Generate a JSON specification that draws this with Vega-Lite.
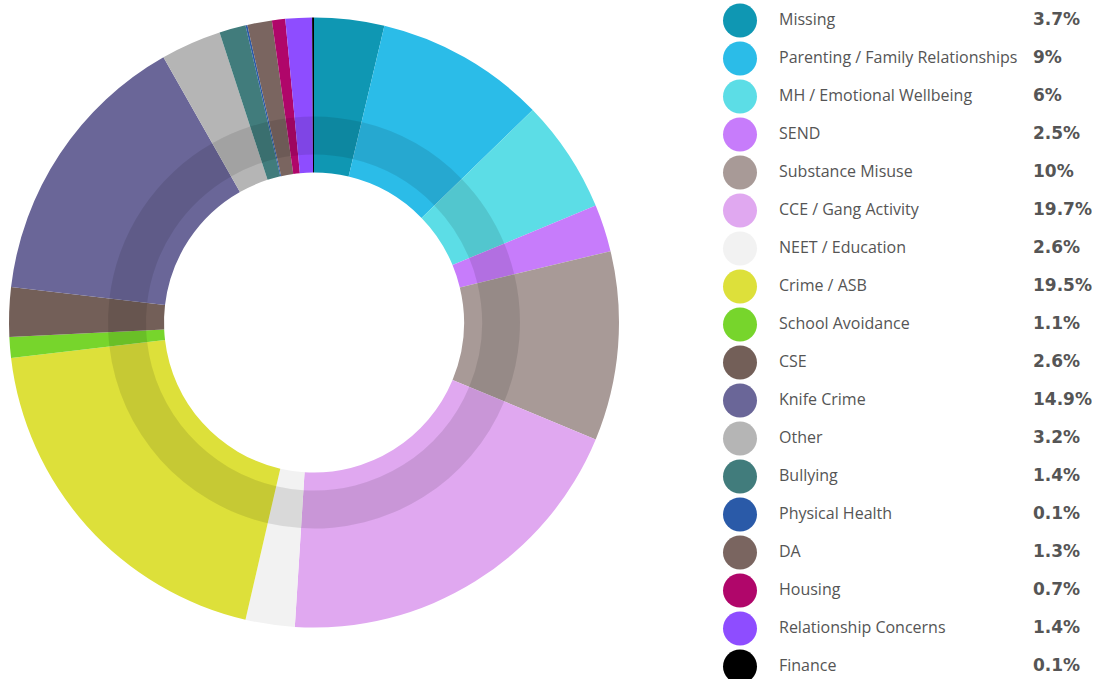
{
  "$schema": "https://vega.github.io/schema/vega-lite/v6.json",
  "padding": 0,
  "spacing": 0,
  "bounds": "flush",
  "background": "white",
  "config": {"view": {"stroke": null}},
  "data": {"values": [
    {"order": 1, "category": "Missing", "value": 3.7, "pct": "3.7%"},
    {"order": 2, "category": "Parenting / Family Relationships", "value": 9, "pct": "9%"},
    {"order": 3, "category": "MH / Emotional Wellbeing", "value": 6, "pct": "6%"},
    {"order": 4, "category": "SEND", "value": 2.5, "pct": "2.5%"},
    {"order": 5, "category": "Substance Misuse", "value": 10, "pct": "10%"},
    {"order": 6, "category": "CCE / Gang Activity", "value": 19.7, "pct": "19.7%"},
    {"order": 7, "category": "NEET / Education", "value": 2.6, "pct": "2.6%"},
    {"order": 8, "category": "Crime / ASB", "value": 19.5, "pct": "19.5%"},
    {"order": 9, "category": "School Avoidance", "value": 1.1, "pct": "1.1%"},
    {"order": 10, "category": "CSE", "value": 2.6, "pct": "2.6%"},
    {"order": 11, "category": "Knife Crime", "value": 14.9, "pct": "14.9%"},
    {"order": 12, "category": "Other", "value": 3.2, "pct": "3.2%"},
    {"order": 13, "category": "Bullying", "value": 1.4, "pct": "1.4%"},
    {"order": 14, "category": "Physical Health", "value": 0.1, "pct": "0.1%"},
    {"order": 15, "category": "DA", "value": 1.3, "pct": "1.3%"},
    {"order": 16, "category": "Housing", "value": 0.7, "pct": "0.7%"},
    {"order": 17, "category": "Relationship Concerns", "value": 1.4, "pct": "1.4%"},
    {"order": 18, "category": "Finance", "value": 0.1, "pct": "0.1%"}
  ]},
  "hconcat": [
    {
      "width": 628,
      "height": 645,
      "layer": [
        {
          "mark": {"type": "arc", "radius": 305, "radius2": 150},
          "encoding": {
            "theta": {"field": "value", "type": "quantitative", "stack": true},
            "order": {"field": "order", "type": "quantitative"},
            "color": {
              "field": "category", "type": "nominal", "legend": null,
              "scale": {
                "domain": ["Missing", "Parenting / Family Relationships", "MH / Emotional Wellbeing", "SEND", "Substance Misuse", "CCE / Gang Activity", "NEET / Education", "Crime / ASB", "School Avoidance", "CSE", "Knife Crime", "Other", "Bullying", "Physical Health", "DA", "Housing", "Relationship Concerns", "Finance"],
                "range": ["#0f97b3", "#2bbce8", "#5cdde6", "#c77cfb", "#a89a97", "#e0a8f0", "#f2f2f2", "#dde03a", "#77d52c", "#735f58", "#6a6698", "#b5b5b5", "#417c7c", "#2a5aa8", "#7a6560", "#b0066a", "#8e4dff", "#000000"]
              }
            }
          }
        },
        {
          "mark": {"type": "arc", "radius": 206, "radius2": 168, "color": "#000000", "opacity": 0.1},
          "encoding": {
            "theta": {"field": "value", "type": "quantitative", "stack": true},
            "order": {"field": "order", "type": "quantitative"}
          }
        }
      ]
    },
    {
      "width": 224,
      "height": 679,
      "encoding": {
        "y": {"field": "category", "type": "nominal", "sort": {"field": "order"}, "axis": null,
              "scale": {"type": "point", "padding": 0.434, "align": 0.62}}
      },
      "layer": [
        {
          "mark": {"type": "point", "filled": true, "size": 1156, "opacity": 1, "shape": "circle"},
          "encoding": {
            "color": {"field": "category", "type": "nominal", "legend": null}
          }
        },
        {
          "mark": {"type": "text", "align": "left", "baseline": "middle", "dx": 39, "font": "Open Sans", "fontSize": 16, "color": "#555555"},
          "encoding": {"text": {"field": "category"}}
        },
        {
          "mark": {"type": "text", "align": "left", "baseline": "middle", "dx": 293, "font": "DejaVu Sans", "fontWeight": "bold", "fontSize": 17, "color": "#555555"},
          "encoding": {"text": {"field": "pct"}}
        }
      ]
    }
  ],
  "resolve": {"scale": {"color": "shared"}}
}
